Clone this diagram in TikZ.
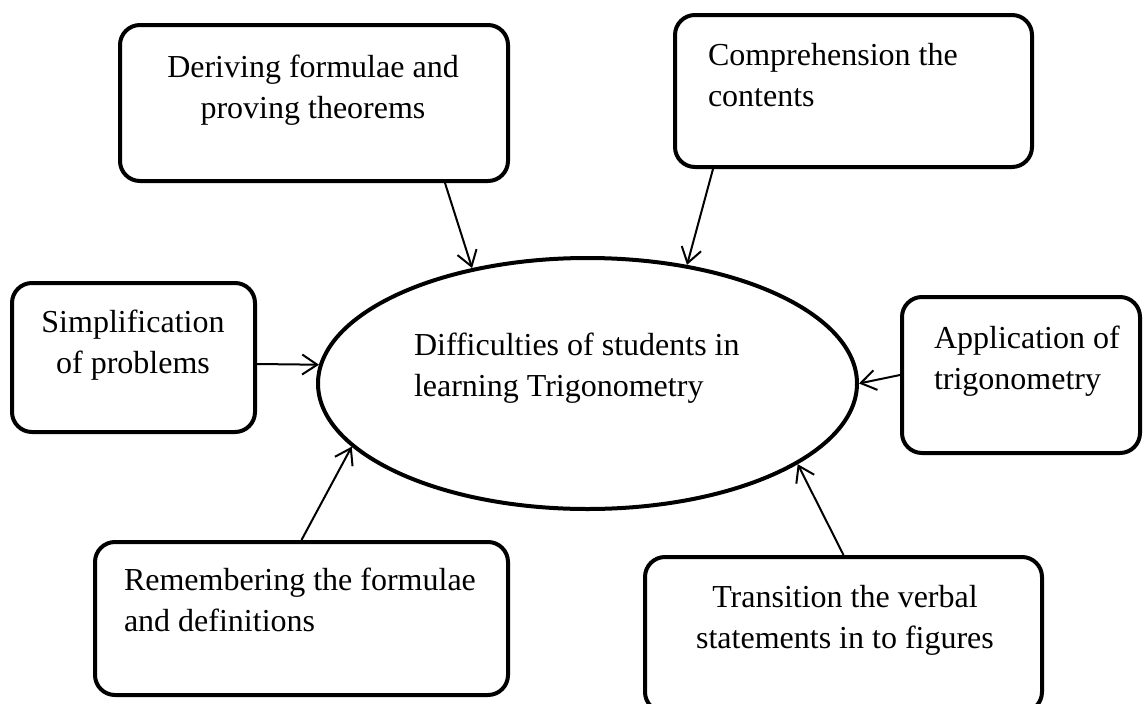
\documentclass[tikz,border=0pt]{standalone}
\usepackage{fontspec}
\setmainfont{Liberation Serif}
\usetikzlibrary{shapes.geometric,arrows.meta,calc}

\tikzset{
box/.style={draw, rounded corners=20pt, line width=4pt, inner sep=0pt},
arr/.style={-{Straight Barb[length=15pt,width=20pt]}, line width=2pt},
lbl/.style={inner sep=0pt, font=\fontsize{32}{41.5}\selectfont}}
\tikzset{every picture/.style={line width=2pt}}

\begin{document}
\begin{tikzpicture}[x=1pt,y=1pt,yscale=-1,xscale=1]

\useasboundingbox (0,0) rectangle (1143,704);

% ELLIPSE

\node[draw, ellipse, line width=4pt, inner sep=0pt,
      minimum width=539, minimum height=251] (diff) at (587.5,383.5) {};

% BOXES

\node[box, minimum width=388, minimum height=156] (deriv) at (314,103) {};
\node[box, minimum width=357, minimum height=152] (comp) at (853.5,91) {};
\node[box, minimum width=243, minimum height=149] (simp) at (133.5,357.5) {};
\node[box, minimum width=238, minimum height=156] (appl) at (1021,375) {};
\node[box, minimum width=413, minimum height=153] (rem) at (301.5,618.5) {};
\node[box, minimum width=397, minimum height=155] (trans) at (843.5,634.5) {};

% LABELS (base = last line)

\node[lbl, align=left, anchor=base west] (difftxt) at (413,396.5) {Difficulties of students in\\learning Trigonometry};
\node[lbl, align=center, anchor=base] (derivtxt) at (313,118.5) {Deriving formulae and\\proving theorems};
\node[lbl, align=left, anchor=base west] (comptxt) at (707,106.5) {Comprehension the\\contents};
\node[lbl, align=center, anchor=base] (simptxt) at (133,373.5) {Simplification\\of problems};
\node[lbl, align=left, anchor=base west] (appltxt) at (933,389.5) {Application of\\trigonometry};
\node[lbl, align=left, anchor=base west] (remtxt) at (123,631.5) {Remembering the formulae\\and definitions};
\node[lbl, align=center, anchor=base] (transtxt) at (845,648.5) {Transition the verbal\\statements in to figures};

% ARROWS

\draw[arr] ($(deriv.south)+(131,0)$) -- (diff.135);
\draw[arr] ($(comp.south)+(-140.5,0)$) -- (diff.50);
\draw[arr] ($(simp.east)+(0,6.5)$) -- (diff.176);
\draw[arr] (appl.west) -- (diff.0);
\draw[arr] (rem.north) -- (diff.195);
\draw[arr] (trans.north) -- (diff.339);

\end{tikzpicture}
\end{document}
